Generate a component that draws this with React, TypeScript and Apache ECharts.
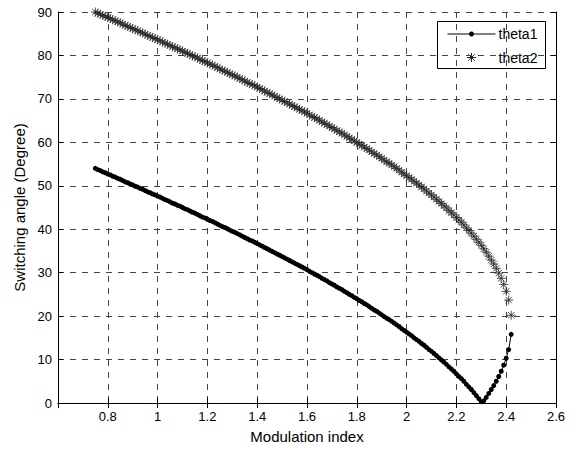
import React, { useEffect, useRef } from "react";
import * as echarts from "echarts";

// Modulation index (x values)
const modulationIndex = [
  0.75, 0.76, 0.77, 0.78, 0.79,
  0.8, 0.81, 0.82, 0.83, 0.84, 0.85, 0.86, 0.87, 0.88, 0.89,
  0.9, 0.91, 0.92, 0.93, 0.94, 0.95, 0.96, 0.97, 0.98, 0.99,
  1.0, 1.01, 1.02, 1.03, 1.04, 1.05, 1.06, 1.07, 1.08, 1.09,
  1.1, 1.11, 1.12, 1.13, 1.14, 1.15, 1.16, 1.17, 1.18, 1.19,
  1.2, 1.21, 1.22, 1.23, 1.24, 1.25, 1.26, 1.27, 1.28, 1.29,
  1.3, 1.31, 1.32, 1.33, 1.34, 1.35, 1.36, 1.37, 1.38, 1.39,
  1.4, 1.41, 1.42, 1.43, 1.44, 1.45, 1.46, 1.47, 1.48, 1.49,
  1.5, 1.51, 1.52, 1.53, 1.54, 1.55, 1.56, 1.57, 1.58, 1.59,
  1.6, 1.61, 1.62, 1.63, 1.64, 1.65, 1.66, 1.67, 1.68, 1.69,
  1.7, 1.71, 1.72, 1.73, 1.74, 1.75, 1.76, 1.77, 1.78, 1.79,
  1.8, 1.81, 1.82, 1.83, 1.84, 1.85, 1.86, 1.87, 1.88, 1.89,
  1.9, 1.91, 1.92, 1.93, 1.94, 1.95, 1.96, 1.97, 1.98, 1.99,
  2.0, 2.01, 2.02, 2.03, 2.04, 2.05, 2.06, 2.07, 2.08, 2.09,
  2.1, 2.11, 2.12, 2.13, 2.14, 2.15, 2.16, 2.17, 2.18, 2.19,
  2.2, 2.21, 2.22, 2.23, 2.24, 2.25, 2.26, 2.27, 2.28, 2.29,
  2.3, 2.31, 2.32, 2.33, 2.34, 2.35, 2.36, 2.37, 2.38, 2.39,
  2.4, 2.41, 2.42,
];

// theta1 (degrees)
const theta1 = [
  54.0, 53.7, 53.5, 53.2, 53.0,
  52.7, 52.5, 52.2, 52.0, 51.7, 51.5, 51.2, 50.9, 50.7, 50.4,
  50.2, 49.9, 49.7, 49.4, 49.2, 48.9, 48.6, 48.4, 48.1, 47.9,
  47.6, 47.4, 47.1, 46.8, 46.6, 46.3, 46.0, 45.8, 45.5, 45.3,
  45.0, 44.7, 44.5, 44.2, 43.9, 43.7, 43.4, 43.1, 42.8, 42.6,
  42.3, 42.0, 41.8, 41.5, 41.2, 40.9, 40.6, 40.4, 40.1, 39.8,
  39.5, 39.3, 39.0, 38.7, 38.4, 38.1, 37.8, 37.5, 37.3, 37.0,
  36.7, 36.4, 36.1, 35.8, 35.5, 35.2, 34.9, 34.6, 34.3, 34.0,
  33.7, 33.4, 33.1, 32.8, 32.5, 32.2, 31.9, 31.6, 31.3, 31.0,
  30.7, 30.3, 30.0, 29.7, 29.4, 29.1, 28.7, 28.4, 28.1, 27.7,
  27.4, 27.1, 26.7, 26.4, 26.1, 25.7, 25.4, 25.0, 24.7, 24.3,
  24.0, 23.6, 23.3, 22.9, 22.6, 22.2, 21.8, 21.4, 21.1, 20.7,
  20.3, 19.9, 19.5, 19.2, 18.8, 18.4, 18.0, 17.6, 17.1, 16.7,
  16.3, 15.9, 15.5, 15.0, 14.6, 14.2, 13.7, 13.3, 12.8, 12.3,
  11.9, 11.4, 10.9, 10.4, 9.9, 9.4, 8.9, 8.3, 7.8, 7.3,
  6.7, 6.1, 5.6, 5.0, 4.3, 3.7, 3.1, 2.4, 1.7, 1.0,
  0.3, 0.5, 1.3, 2.2, 3.1, 4.0, 5.0, 6.1, 7.3, 8.7,
  10.3, 12.3, 15.8,
];

// theta2 (degrees)
const theta2 = [
  90.0, 89.7, 89.5, 89.2, 89.0,
  88.7, 88.5, 88.2, 88.0, 87.7, 87.5, 87.2, 86.9, 86.7, 86.4,
  86.2, 85.9, 85.7, 85.4, 85.2, 84.9, 84.6, 84.4, 84.1, 83.9,
  83.6, 83.4, 83.1, 82.8, 82.6, 82.3, 82.0, 81.8, 81.5, 81.3,
  81.0, 80.7, 80.5, 80.2, 79.9, 79.7, 79.4, 79.1, 78.8, 78.6,
  78.3, 78.0, 77.8, 77.5, 77.2, 76.9, 76.6, 76.4, 76.1, 75.8,
  75.5, 75.3, 75.0, 74.7, 74.4, 74.1, 73.8, 73.5, 73.3, 73.0,
  72.7, 72.4, 72.1, 71.8, 71.5, 71.2, 70.9, 70.6, 70.3, 70.0,
  69.7, 69.4, 69.1, 68.8, 68.5, 68.2, 67.9, 67.6, 67.3, 67.0,
  66.7, 66.3, 66.0, 65.7, 65.4, 65.1, 64.7, 64.4, 64.1, 63.7,
  63.4, 63.1, 62.7, 62.4, 62.1, 61.7, 61.4, 61.0, 60.7, 60.3,
  60.0, 59.6, 59.3, 58.9, 58.6, 58.2, 57.8, 57.4, 57.1, 56.7,
  56.3, 55.9, 55.5, 55.2, 54.8, 54.4, 54.0, 53.6, 53.1, 52.7,
  52.3, 51.9, 51.5, 51.0, 50.6, 50.2, 49.7, 49.3, 48.8, 48.3,
  47.9, 47.4, 46.9, 46.4, 45.9, 45.4, 44.9, 44.3, 43.8, 43.3,
  42.7, 42.1, 41.6, 41.0, 40.3, 39.7, 39.1, 38.4, 37.7, 37.0,
  36.3, 35.5, 34.7, 33.8, 32.9, 32.0, 31.0, 29.9, 28.7, 27.3,
  25.7, 23.7, 20.2,
];

const seriesNames = ["theta1", "theta2"];
const xAxisTitle = "Modulation index";
const yAxisTitle = "Switching angle (Degree)";

const FONT = "'Liberation Sans', Arial, Helvetica, sans-serif";
const STAR = "path://M0 -10 L0 10 M-10 0 L10 0 M-7 -7 L7 7 M-7 7 L7 -7";

export default function App() {
  const ref = useRef<HTMLDivElement>(null);

  useEffect(() => {
    if (!ref.current) return;
    const chart = echarts.init(ref.current, undefined, { renderer: "svg" });

    const tickCommon = {
      axisLine: { show: true, lineStyle: { color: "#000", width: 1 } },
      axisTick: { show: true, inside: true, length: 5, lineStyle: { color: "#000" } },
    };
    const splitDashed = {
      show: true,
      lineStyle: { color: "#444", width: 1, type: [6, 6] as any },
    };

    const legendX = 437;
    const legendY = 21;
    const starColor = "#222";

    chart.setOption({
      animation: false,
      backgroundColor: "#fff",
      textStyle: { fontFamily: FONT, color: "#000" },
      grid: { left: 58, right: 28, top: 12, bottom: 47, containLabel: false },
      xAxis: [
        {
          type: "value",
          min: 0.6,
          max: 2.6,
          interval: 0.2,
          ...tickCommon,
          splitLine: splitDashed,
          axisLabel: {
            showMinLabel: false,
            color: "#000",
            fontSize: 13,
            fontFamily: FONT,
            margin: 7,
          },
          name: xAxisTitle,
          nameLocation: "middle",
          nameGap: 26,
          nameTextStyle: { fontSize: 15, color: "#000", fontFamily: FONT },
        },
        {
          type: "value",
          position: "top",
          min: 0.6,
          max: 2.6,
          interval: 0.2,
          ...tickCommon,
          splitLine: { show: false },
          axisLabel: { show: false },
        },
      ],
      yAxis: [
        {
          type: "value",
          min: 0,
          max: 90,
          interval: 10,
          ...tickCommon,
          splitLine: splitDashed,
          axisLabel: { color: "#000", fontSize: 13, fontFamily: FONT, margin: 6 },
          name: yAxisTitle,
          nameLocation: "middle",
          nameGap: 27,
          nameTextStyle: { fontSize: 15, color: "#000", fontFamily: FONT },
        },
        {
          type: "value",
          position: "right",
          min: 0,
          max: 90,
          interval: 10,
          ...tickCommon,
          splitLine: { show: false },
          axisLabel: { show: false },
        },
      ],
      series: [
        {
          name: seriesNames[0],
          type: "line",
          data: modulationIndex.map((m, i) => [m, theta1[i]]),
          symbol: "circle",
          symbolSize: 5,
          showSymbol: true,
          lineStyle: { color: "#000", width: 1 },
          itemStyle: { color: "#000" },
          z: 3,
        },
        {
          name: seriesNames[1],
          type: "scatter",
          data: modulationIndex.map((m, i) => [m, theta2[i]]),
          symbol: STAR,
          symbolSize: 9,
          itemStyle: { color: "none", borderColor: starColor, borderWidth: 1 },
          z: 3,
        },
      ],
      graphic: [
        {
          type: "group",
          left: legendX,
          top: legendY,
          z: 100,
          children: [
            {
              type: "rect",
              shape: { x: 0, y: 0, width: 108, height: 47 },
              style: { fill: "#fff", stroke: "#000", lineWidth: 1 },
            },
            {
              type: "line",
              shape: { x1: 10, y1: 12.5, x2: 58, y2: 12.5 },
              style: { stroke: "#000", lineWidth: 1 },
            },
            {
              type: "circle",
              shape: { cx: 34, cy: 12.5, r: 2.5 },
              style: { fill: "#000" },
            },
            {
              type: "text",
              x: 61,
              y: 12.5,
              style: {
                text: seriesNames[0],
                font: `14px ${FONT}`,
                fill: "#000",
                verticalAlign: "middle",
                align: "left",
              },
            },
            { type: "line", shape: { x1: 34, y1: 31.5, x2: 34, y2: 40.5 }, style: { stroke: starColor, lineWidth: 1 } },
            { type: "line", shape: { x1: 29.5, y1: 36, x2: 38.5, y2: 36 }, style: { stroke: starColor, lineWidth: 1 } },
            { type: "line", shape: { x1: 30.8, y1: 32.8, x2: 37.2, y2: 39.2 }, style: { stroke: starColor, lineWidth: 1 } },
            { type: "line", shape: { x1: 30.8, y1: 39.2, x2: 37.2, y2: 32.8 }, style: { stroke: starColor, lineWidth: 1 } },
            {
              type: "text",
              x: 61,
              y: 36,
              style: {
                text: seriesNames[1],
                font: `14px ${FONT}`,
                fill: "#000",
                verticalAlign: "middle",
                align: "left",
              },
            },
          ],
        },
      ],
    });

    return () => chart.dispose();
  }, []);

  return (
    <div
      ref={ref}
      style={{ position: "fixed", left: 0, top: 0, width: 584, height: 450 }}
    />
  );
}
